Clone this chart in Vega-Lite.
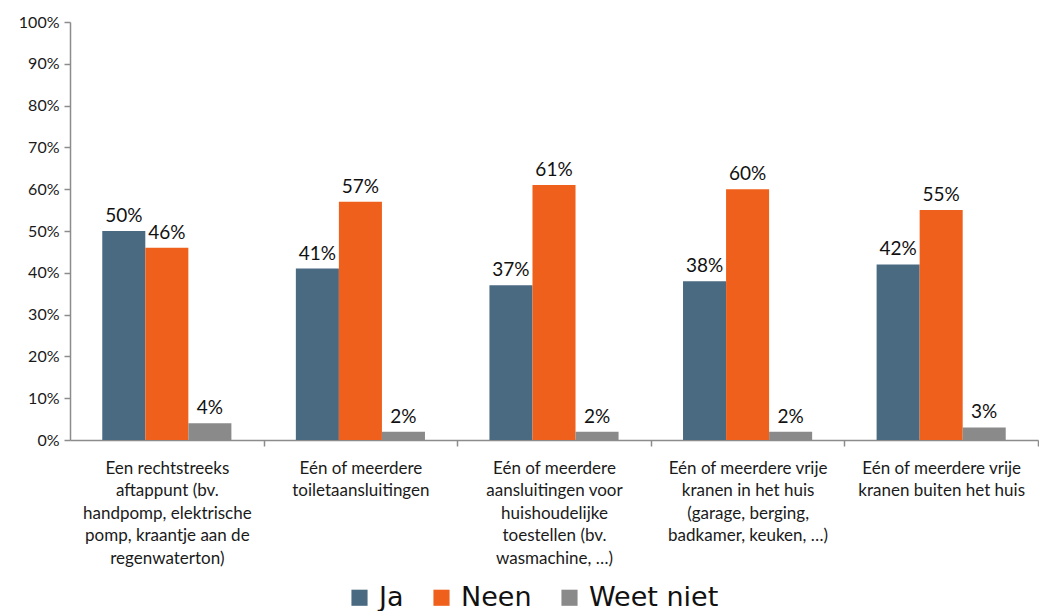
{
  "$schema": "https://vega.github.io/schema/vega-lite/v6.json",
  "width": 968,
  "height": 418,
  "padding": {"left": 18, "top": 14, "right": 0, "bottom": 0},
  "background": "white",
  "config": {
    "view": {"stroke": null},
    "font": "Lato",
    "axis": {"domainColor": "#8c8c8c", "tickColor": "#8c8c8c", "domainWidth": 1.5, "tickWidth": 1.5, "labelColor": "#1a1a1a", "labelFont": "Lato"}
  },
  "data": {
    "values": [
      {"cat": "Een rechtstreeks|aftappunt (bv.|handpomp, elektrische|pomp, kraantje aan de|regenwaterton)", "serie": "Ja", "value": 0.50},
      {"cat": "Een rechtstreeks|aftappunt (bv.|handpomp, elektrische|pomp, kraantje aan de|regenwaterton)", "serie": "Neen", "value": 0.46},
      {"cat": "Een rechtstreeks|aftappunt (bv.|handpomp, elektrische|pomp, kraantje aan de|regenwaterton)", "serie": "Weet niet", "value": 0.04},
      {"cat": "Eén of meerdere|toiletaansluitingen", "serie": "Ja", "value": 0.41},
      {"cat": "Eén of meerdere|toiletaansluitingen", "serie": "Neen", "value": 0.57},
      {"cat": "Eén of meerdere|toiletaansluitingen", "serie": "Weet niet", "value": 0.02},
      {"cat": "Eén of meerdere|aansluitingen voor|huishoudelijke|toestellen (bv.|wasmachine, …)", "serie": "Ja", "value": 0.37},
      {"cat": "Eén of meerdere|aansluitingen voor|huishoudelijke|toestellen (bv.|wasmachine, …)", "serie": "Neen", "value": 0.61},
      {"cat": "Eén of meerdere|aansluitingen voor|huishoudelijke|toestellen (bv.|wasmachine, …)", "serie": "Weet niet", "value": 0.02},
      {"cat": "Eén of meerdere vrije|kranen in het huis|(garage, berging,|badkamer, keuken, …)", "serie": "Ja", "value": 0.38},
      {"cat": "Eén of meerdere vrije|kranen in het huis|(garage, berging,|badkamer, keuken, …)", "serie": "Neen", "value": 0.60},
      {"cat": "Eén of meerdere vrije|kranen in het huis|(garage, berging,|badkamer, keuken, …)", "serie": "Weet niet", "value": 0.02},
      {"cat": "Eén of meerdere vrije|kranen buiten het huis", "serie": "Ja", "value": 0.42},
      {"cat": "Eén of meerdere vrije|kranen buiten het huis", "serie": "Neen", "value": 0.55},
      {"cat": "Eén of meerdere vrije|kranen buiten het huis", "serie": "Weet niet", "value": 0.03}
    ]
  },
  "encoding": {
    "x": {
      "field": "cat", "type": "nominal", "sort": null, "title": null,
      "scale": {"paddingInner": 0.333, "paddingOuter": 0.1667},
      "axis": {"labelAngle": 0, "labelExpr": "split(datum.label, '|')", "labelFontSize": 17, "labelLineHeight": 22.5, "labelPadding": 14, "tickSize": 6, "tickOffset": 96.8, "labelOffset": -96.8, "labelLimit": 300, "labelBaseline": "top", "labelOverlap": false}
    },
    "xOffset": {"field": "serie", "type": "nominal", "sort": ["Ja", "Neen", "Weet niet"], "scale": {"paddingInner": 0, "paddingOuter": 0}},
    "y": {
      "field": "value", "type": "quantitative", "title": null,
      "scale": {"domain": [0, 1]},
      "axis": {"format": ".0%", "values": [0, 0.1, 0.2, 0.3, 0.4, 0.5, 0.6, 0.7, 0.8, 0.9, 1.0], "labelOverlap": false, "grid": false, "labelFontSize": 16, "tickSize": 6, "labelPadding": 5}
    }
  },
  "layer": [
    {
      "mark": {"type": "bar"},
      "encoding": {
        "color": {
          "field": "serie", "type": "nominal", "sort": ["Ja", "Neen", "Weet niet"],
          "scale": {"domain": ["Ja", "Neen", "Weet niet"], "range": ["#4a6a82", "#ef601c", "#8a8a8a"]},
          "legend": {"title": null, "orient": "none", "legendX": 276, "legendY": 562, "direction": "horizontal", "symbolType": "square", "symbolSize": 260, "symbolStrokeWidth": 0, "labelFontSize": 27, "labelFont": "DejaVu Sans", "labelColor": "#111111", "columnPadding": 24, "labelOffset": 6}
        }
      }
    },
    {
      "mark": {"type": "text", "baseline": "bottom", "dy": -5, "fontSize": 19, "color": "#111111", "font": "Lato"},
      "encoding": {"text": {"field": "value", "type": "quantitative", "format": ".0%"}}
    }
  ]
}
